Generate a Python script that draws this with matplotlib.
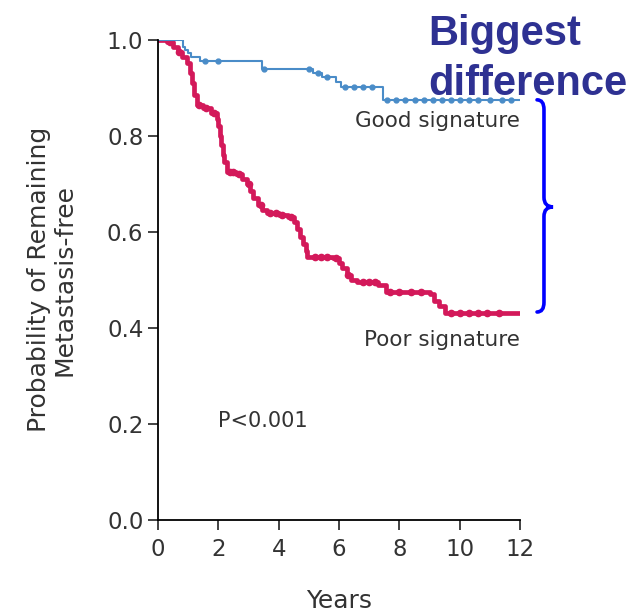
import numpy as np
import matplotlib.pyplot as plt
from matplotlib.path import Path
from matplotlib.patches import PathPatch

plt.rcParams['font.family'] = ['DejaVu Sans']

# Kaplan-Meier steps (years, survival)
good_t = [0, 0.83, 0.9, 1.0, 1.1, 1.4, 3.45, 5.15, 5.45, 5.9, 6.05, 7.45, 12]
good_s = [1.0, 0.985, 0.978, 0.972, 0.965, 0.955, 0.94, 0.93, 0.922, 0.912, 0.902, 0.875, 0.875]
good_cens = [1.55, 2.0, 3.5, 5.0, 5.3, 5.6, 6.2, 6.5, 6.8, 7.1, 7.6, 7.9, 8.2, 8.5,
             8.8, 9.1, 9.4, 9.7, 10.0, 10.3, 10.6, 11.0, 11.4, 11.7]

poor_t = [0, 0.3, 0.5, 0.65, 0.8, 0.95, 1.05, 1.12, 1.2, 1.28, 1.5, 1.75, 1.95,
          2.0, 2.05, 2.1, 2.15, 2.2, 2.3, 2.6, 2.8, 2.95, 3.05, 3.15, 3.3, 3.45, 3.6,
          4.0, 4.3, 4.5, 4.6, 4.7, 4.8, 4.9, 4.95, 5.8, 6.0, 6.1, 6.25, 6.4, 6.6,
          7.3, 7.55, 9.0, 9.15, 9.3, 9.5, 12]
poor_s = [1.0, 0.995, 0.985, 0.975, 0.965, 0.952, 0.93, 0.91, 0.885, 0.865, 0.858,
          0.848, 0.835, 0.82, 0.80, 0.78, 0.76, 0.745, 0.725, 0.72, 0.71, 0.70,
          0.685, 0.67, 0.655, 0.645, 0.64, 0.635, 0.63, 0.62, 0.605, 0.59, 0.575,
          0.56, 0.548, 0.545, 0.535, 0.525, 0.51, 0.50, 0.495, 0.49, 0.475, 0.47,
          0.455, 0.445, 0.43, 0.43]
poor_cens = [0.4, 0.7, 1.35, 1.6, 1.85, 2.4, 2.5, 2.7, 3.0, 3.4, 3.7, 3.9, 4.1, 4.4,
             5.2, 5.4, 5.6, 5.9, 6.3, 6.8, 7.0, 7.2, 7.7, 8.0, 8.4, 8.7, 9.7, 10.0,
             10.3, 10.6, 10.9, 11.3]

blue = '#4a8cc8'
red = '#d3195a'
grey = '#333333'


def step_val(t, s, x):
    idx = np.searchsorted(t, x, side='right') - 1
    return np.asarray(s)[idx]


fig = plt.figure(figsize=(6.32, 6.13), dpi=100)
ax = fig.add_axes([0.25, 0.152, 0.573, 0.783])

ax.step(poor_t, poor_s, where='post', color=red, lw=3.4, solid_joinstyle='round')
ax.plot(poor_cens, step_val(poor_t, poor_s, poor_cens), 'o', color=red, ms=4.5)
ax.step(good_t, good_s, where='post', color=blue, lw=1.5)
ax.plot(good_cens, step_val(good_t, good_s, good_cens), 'o', color=blue, ms=3.5)

ax.set_xlim(0, 12)
ax.set_ylim(0, 1)
ax.set_xticks(range(0, 13, 2))
ax.set_yticks(np.arange(0, 1.01, 0.2))
ax.set_yticklabels(['0.0', '0.2', '0.4', '0.6', '0.8', '1.0'])
ax.tick_params(labelsize=16.5, length=7, width=1.2, color='#222222', labelcolor=grey)
ax.tick_params(axis='x', pad=6)
for side in ['top', 'right']:
    ax.spines[side].set_visible(False)
for side in ['left', 'bottom']:
    ax.spines[side].set_linewidth(1.3)

ax.set_xlabel('Years', fontsize=18, color=grey, labelpad=20)
ax.set_ylabel('Probability of Remaining\nMetastasis-free', fontsize=18,
              color=grey, labelpad=22, linespacing=1.05)

ax.text(12, 0.83, 'Good signature', ha='right', va='center', fontsize=15.5, color=grey)
ax.text(12, 0.375, 'Poor signature', ha='right', va='center', fontsize=15.5, color=grey)
ax.text(2.0, 0.205, 'P<0.001', ha='left', va='center', fontsize=15, color=grey)

# brace marking the biggest difference
xl, xm, xt = 12.56, 12.79, 13.09
yt, ymid, yb = 0.875, 0.652, 0.433
verts = [(xl, yt), (xm, yt), (xm, yt - 0.02), (xm, ymid + 0.02), (xm, ymid), (xt, ymid),
         (xm, ymid), (xm, ymid - 0.02), (xm, yb + 0.02), (xm, yb), (xl, yb)]
codes = [Path.MOVETO, Path.CURVE3, Path.CURVE3, Path.LINETO, Path.CURVE3, Path.CURVE3,
         Path.CURVE3, Path.CURVE3, Path.LINETO, Path.CURVE3, Path.CURVE3]
brace = PathPatch(Path(verts, codes), fill=False, edgecolor='#0000ff', lw=2.6,
                  clip_on=False, capstyle='round')
ax.add_patch(brace)

for label, ybase in [('Biggest', 0.927), ('difference', 0.845)]:
    fig.text(0.677, ybase, label, fontsize=30, fontweight='bold', color='#2e3192',
             ha='left', va='baseline', family=['Liberation Sans', 'DejaVu Sans'])

fig.savefig('out.png', dpi=100, facecolor='white')
